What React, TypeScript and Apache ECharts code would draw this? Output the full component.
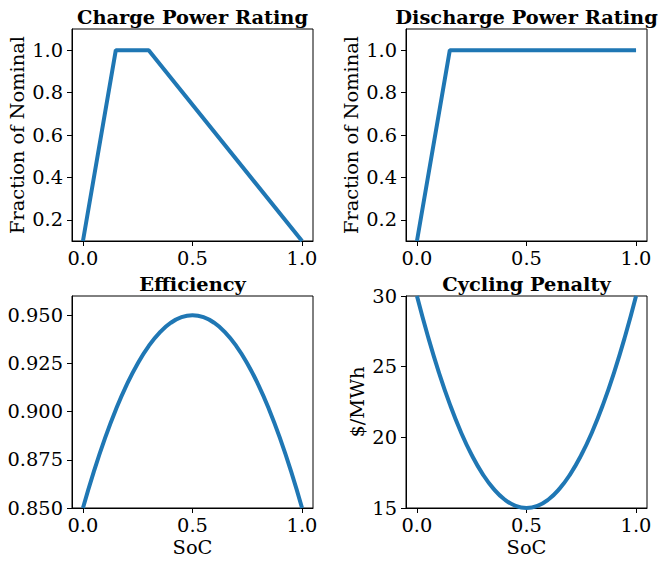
import React, { useEffect, useRef } from "react";
import * as echarts from "echarts";

const chargeX = [0, 0.15, 0.3, 1.0];
const chargeY = [0.1, 1.0, 1.0, 0.1];
const dischargeX = [0, 0.15, 1.0];
const dischargeY = [0.1, 1.0, 1.0];
const socX = [0, 0.05, 0.1, 0.15, 0.2, 0.25, 0.3, 0.35, 0.4, 0.45, 0.5, 0.55, 0.6, 0.65, 0.7, 0.75, 0.8, 0.85, 0.9, 0.95, 1.0];
const efficiencyY = [0.85, 0.869, 0.886, 0.901, 0.914, 0.925, 0.934, 0.941, 0.946, 0.949, 0.95, 0.949, 0.946, 0.941, 0.934, 0.925, 0.914, 0.901, 0.886, 0.869, 0.85];
const penaltyY = [30, 27.15, 24.6, 22.35, 20.4, 18.75, 17.4, 16.35, 15.6, 15.15, 15, 15.15, 15.6, 16.35, 17.4, 18.75, 20.4, 22.35, 24.6, 27.15, 30];

const xTicks = [0, 0.5, 1.0];
const fractionTicks = [0.2, 0.4, 0.6, 0.8, 1.0];
const efficiencyTicks = [0.85, 0.875, 0.9, 0.925, 0.95];
const penaltyTicks = [15, 20, 25, 30];

const titles = ["Charge Power Rating", "Discharge Power Rating", "Efficiency", "Cycling Penalty"];

const FONT = "DejaVu Serif";
const FS = 19.4;
const BLUE = "#1f77b4";

const grids = [
  { left: 72, top: 29, width: 241, height: 212 },
  { left: 406, top: 29, width: 241, height: 212 },
  { left: 72, top: 296, width: 241, height: 212 },
  { left: 406, top: 296, width: 241, height: 212 },
];

function xAxisFor(i: number, withName: boolean) {
  return {
    type: "value",
    gridIndex: i,
    min: -0.05,
    max: 1.05,
    splitLine: { show: false },
    axisLine: { show: true, onZero: false, lineStyle: { color: "#000", width: 1 } },
    axisTick: { show: true, length: 5, customValues: xTicks, lineStyle: { color: "#000", width: 1 } },
    axisLabel: {
      customValues: xTicks,
      formatter: (v: number) => v.toFixed(1),
      color: "#000",
      fontFamily: FONT,
      fontSize: FS,
      margin: 8,
    },
    name: withName ? "SoC" : "",
    nameLocation: "middle",
    nameGap: 30,
    nameTextStyle: { color: "#000", fontFamily: FONT, fontSize: FS },
  };
}

function yAxisFor(i: number, min: number, max: number, ticks: number[], digits: number, name: string, nameGap: number) {
  return {
    type: "value",
    gridIndex: i,
    min,
    max,
    splitLine: { show: false },
    axisLine: { show: true, onZero: false, lineStyle: { color: "#000", width: 1 } },
    axisTick: { show: true, length: 5, customValues: ticks, lineStyle: { color: "#000", width: 1 } },
    axisLabel: {
      customValues: ticks,
      formatter: (v: number) => v.toFixed(digits),
      color: "#000",
      fontFamily: FONT,
      fontSize: FS,
      margin: 9,
    },
    name,
    nameLocation: "middle",
    nameGap,
    nameTextStyle: { color: "#000", fontFamily: FONT, fontSize: FS },
  };
}

function lineSeries(i: number, xs: number[], ys: number[], smooth: boolean) {
  return {
    type: "line",
    xAxisIndex: i,
    yAxisIndex: i,
    data: xs.map((x, k) => [x, ys[k]]),
    showSymbol: false,
    smooth,
    clip: true,
    lineStyle: { color: BLUE, width: 4 },
    itemStyle: { color: BLUE },
  };
}

export default function App() {
  const ref = useRef<HTMLDivElement>(null);
  useEffect(() => {
    if (!ref.current) return;
    const chart = echarts.init(ref.current, undefined, { renderer: "svg" });
    chart.setOption({
      animation: false,
      backgroundColor: "#fff",
      grid: grids.map((g) => ({ ...g, show: true, borderColor: "#000", borderWidth: 1, backgroundColor: "transparent" })),
      xAxis: [xAxisFor(0, false), xAxisFor(1, false), xAxisFor(2, true), xAxisFor(3, true)],
      yAxis: [
        yAxisFor(0, 0.1, 1.1, fractionTicks, 1, "Fraction of Nominal", 45),
        yAxisFor(1, 0.1, 1.1, fractionTicks, 1, "Fraction of Nominal", 45),
        yAxisFor(2, 0.85, 0.96, efficiencyTicks, 3, "", 40),
        yAxisFor(3, 15, 30, penaltyTicks, 0, "$/MWh", 39),
      ],
      series: [
        lineSeries(0, chargeX, chargeY, false),
        lineSeries(1, dischargeX, dischargeY, false),
        lineSeries(2, socX, efficiencyY, true),
        lineSeries(3, socX, penaltyY, true),
      ],
      graphic: titles.map((t, i) => ({
        type: "text",
        x: grids[i].left + grids[i].width / 2,
        y: grids[i].top - 2,
        style: {
          text: t,
          fontFamily: FONT,
          fontWeight: "bold",
          fontSize: FS,
          fill: "#000",
          textAlign: "center",
          textVerticalAlign: "bottom",
        },
      })),
    });
    return () => chart.dispose();
  }, []);
  return <div ref={ref} style={{ position: "fixed", left: 0, top: 0, width: 659, height: 561 }} />;
}
